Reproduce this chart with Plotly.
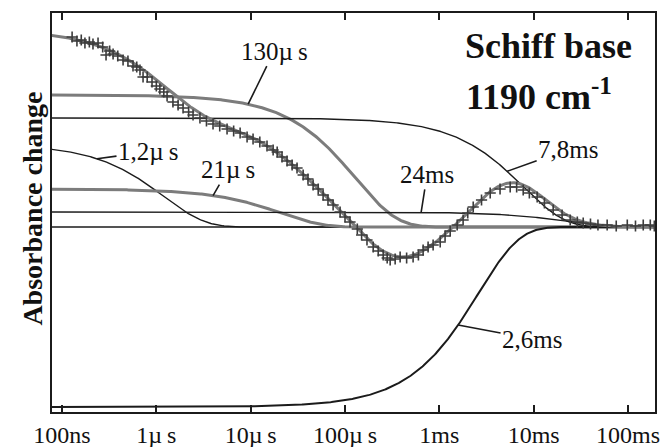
import numpy as np
import plotly.graph_objects as go

# Fitted exponential components: time constant (µs), amplitude, label
tau_us = [1.2, 21.0, 130.0, 2600.0, 7800.0, 24000.0]
amplitude = [0.83, 0.38, 1.32, -1.80, 1.09, 0.15]
component_labels = ["1,2µ\u2009s", "21µ\u2009s", "130µ\u2009s", "2,6ms", "7,8ms", "24ms"]

# Measured absorbance transient (time in µs, absorbance change)
time_us = [0.128, 0.144, 0.16, 0.175, 0.195, 0.213, 0.241, 0.27, 0.293, 0.32,
           0.348, 0.39, 0.444, 0.50, 0.566, 0.62, 0.671, 0.723, 0.80, 0.90,
           1.0, 1.09, 1.20, 1.30, 1.50, 1.70, 1.92, 2.20, 2.45, 2.90,
           3.40, 3.99, 4.7, 5.62, 6.6, 7.73, 9.16, 10.6, 12.5, 14.9,
           17.3, 19.1, 21.5, 24.3, 27.5, 31.0, 36.0, 40.5, 45.9, 52.0,
           58.6, 66.0, 74.8, 88.7, 100, 113, 135, 150, 171, 199,
           225, 254, 280, 301, 340, 384, 450, 527, 600, 673,
           760, 859, 1021, 1150, 1303, 1545, 1786, 2000, 2286, 2800,
           3459, 4400, 5636, 6600, 7745, 9000, 10890, 13000, 16100, 20000,
           24380, 29000, 33500, 40000, 48000, 60100, 75000, 98200, 120000, 145000,
           172200, 190000]
absorbance = [1.90, 1.86, 1.87, 1.84, 1.85, 1.83, 1.84, 1.80, 1.72, 1.76,
              1.73, 1.71, 1.67, 1.66, 1.61, 1.60, 1.57, 1.50, 1.50, 1.45,
              1.41, 1.38, 1.35, 1.31, 1.25, 1.22, 1.19, 1.15, 1.12, 1.09,
              1.06, 1.03, 1.01, 0.98, 0.96, 0.94, 0.90, 0.88, 0.85, 0.81,
              0.77, 0.75, 0.70, 0.66, 0.62, 0.59, 0.52, 0.48, 0.42, 0.38,
              0.32, 0.27, 0.22, 0.15, 0.10, 0.05, -0.02, -0.08, -0.13, -0.20,
              -0.24, -0.28, -0.31, -0.33, -0.32, -0.30, -0.31, -0.30, -0.28, -0.23,
              -0.20, -0.18, -0.15, -0.09, -0.04, 0.02, 0.07, 0.14, 0.20, 0.27,
              0.34, 0.38, 0.40, 0.40, 0.37, 0.34, 0.30, 0.24, 0.17, 0.12,
              0.07, 0.05, 0.04, 0.03, 0.02, 0.02, 0.01, 0.02, 0.01, 0.02,
              0.02, 0.01]

# Axis ticks
tick_vals_us = [0.1, 1, 10, 100, 1000, 10000, 100000]
tick_text = ["100ns", "1µ\u2009s", "10µ\u2009s", "100µ\u2009s", "1ms", "10ms", "100ms"]

LOG_X_RANGE = [-1.106, 5.286]
Y_RANGE = [-1.85, 2.14]
SERIF = "Times New Roman, Liberation Serif, DejaVu Serif, serif"
GREY = "#7c7c7c"
BLACK = "#1b1b1b"

t = np.logspace(LOG_X_RANGE[0] - 0.05, LOG_X_RANGE[1] + 0.05, 600)


def component(i, tt):
    return amplitude[i] * np.exp(-np.asarray(tt) / tau_us[i])


line_style = {
    0: dict(color=BLACK, width=1.4),
    1: dict(color=GREY, width=3),
    2: dict(color=GREY, width=3),
    3: dict(color=BLACK, width=2),
    4: dict(color=BLACK, width=1.4),
    5: dict(color=BLACK, width=1.4),
}

fig = go.Figure()

for i in range(len(tau_us)):
    fig.add_trace(go.Scatter(x=t, y=component(i, t), mode="lines",
                             line=line_style[i], hoverinfo="skip",
                             name=component_labels[i]))

# Sum of all components (global fit)
fit = sum(component(i, t) for i in range(len(tau_us)))
fig.add_trace(go.Scatter(x=t, y=fit, mode="lines",
                         line=dict(color=GREY, width=3), name="fit"))

fig.add_trace(go.Scatter(x=time_us, y=absorbance, mode="markers",
                         marker=dict(symbol="cross-thin", size=8,
                                     line=dict(color="#3c3c3c", width=1.6)),
                         name="data"))

# zero baseline
fig.add_shape(type="line", xref="paper", x0=0, x1=1, yref="y", y0=0, y1=0,
              line=dict(color=BLACK, width=1.6), layer="below")

# Leader-line labels: anchor time (µs) on the component and text offset (px)
label_anchor_us = {0: 0.235, 1: 3.99, 2: 9.4, 3: 1580, 4: 5236, 5: 641}
label_offset = {0: (51, -7), 1: (15, -26), 2: (26, -53), 3: (74, 14),
                4: (61, -22), 5: (6, -38)}
for i, tx in label_anchor_us.items():
    ax, ay = label_offset[i]
    fig.add_annotation(x=np.log10(tx), y=float(component(i, tx)),
                       xref="x", yref="y", text=component_labels[i],
                       showarrow=True, arrowhead=0, arrowwidth=1.6,
                       arrowcolor=BLACK, ax=ax, ay=ay, standoff=0,
                       font=dict(family=SERIF, size=25, color="#111"))

# Panel title
fig.add_annotation(xref="paper", yref="paper", x=0.681, y=0.918,
                   xanchor="left", yanchor="middle", showarrow=False,
                   text="<b>Schiff base</b>",
                   font=dict(family=SERIF, size=36, color="#111"))
fig.add_annotation(xref="paper", yref="paper", x=0.684, y=0.795,
                   xanchor="left", yanchor="middle", showarrow=False,
                   text="<b>1190 cm<sup>-1</sup></b>",
                   font=dict(family=SERIF, size=36, color="#111"))

# y-axis title
fig.add_annotation(xref="paper", yref="paper", x=-0.033, y=0.51,
                   xanchor="center", yanchor="middle", showarrow=False,
                   textangle=-90, text="<b>Absorbance change</b>",
                   font=dict(family=SERIF, size=28, color="#111"))

fig.update_layout(
    width=666, height=447,
    margin=dict(l=52, r=11, t=13, b=35),
    paper_bgcolor="white", plot_bgcolor="white",
    showlegend=False,
    font=dict(family=SERIF, color="#111"),
)
fig.update_xaxes(type="log", range=LOG_X_RANGE, tickvals=tick_vals_us,
                 ticktext=tick_text, ticks="inside", ticklen=7, tickwidth=2,
                 tickcolor=BLACK, showline=True, linewidth=2, linecolor=BLACK,
                 mirror="ticks", showgrid=False, zeroline=False,
                 tickfont=dict(family=SERIF, size=24, color="#111"),
                 automargin=False)
fig.update_yaxes(range=Y_RANGE, showticklabels=False, ticks="",
                 showline=True, linewidth=2, linecolor=BLACK, mirror=True,
                 showgrid=False, zeroline=False, automargin=False)

fig.write_html("out.html")
